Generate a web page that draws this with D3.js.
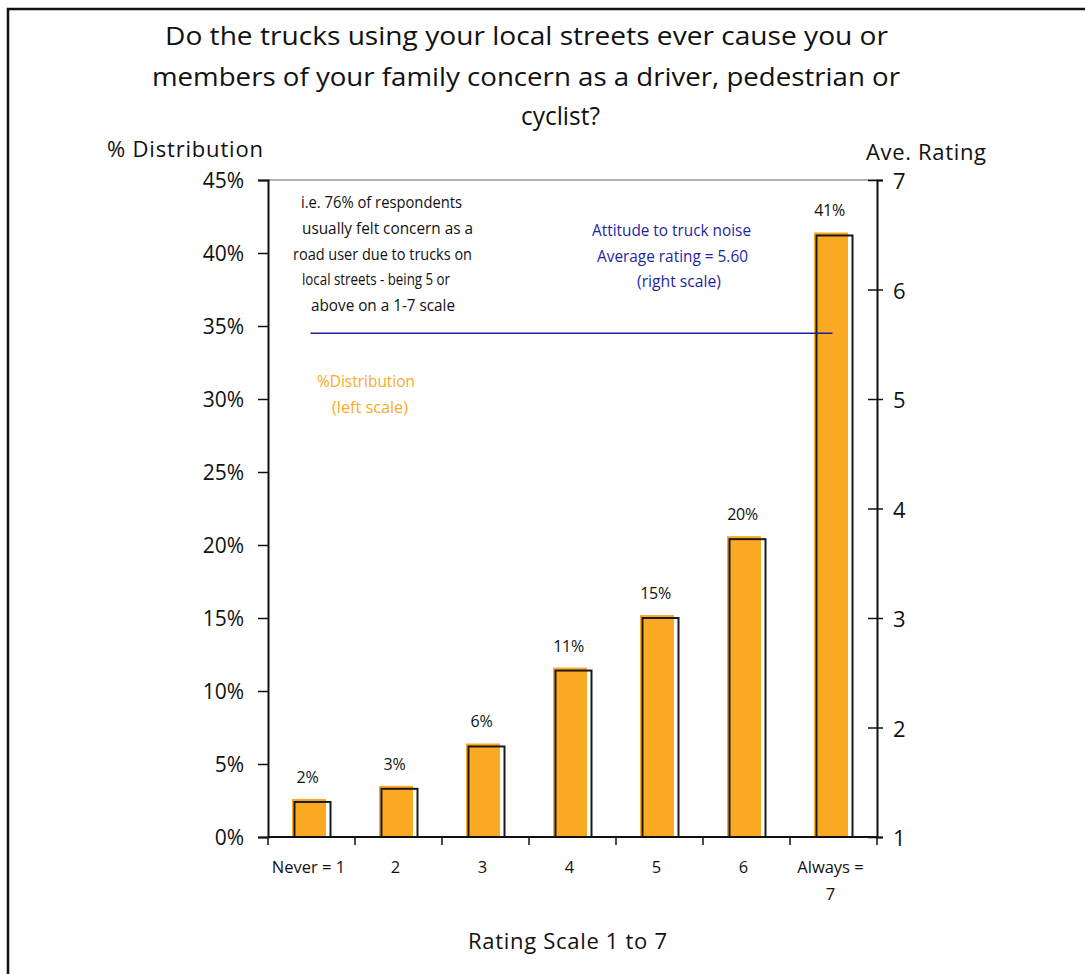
<!DOCTYPE html>
<html>
<head>
<meta charset="utf-8">
<script src="https://cdn.jsdelivr.net/npm/d3@7"></script>
<style>
  html, body { margin: 0; padding: 0; background: #fff; }
  svg { display: block; font-family: "Open Sans", "Noto Sans", sans-serif; }
</style>
</head>
<body>
<svg id="chart" width="1085" height="974"></svg>
<script>
// Rating categories (x axis), each entry split into display lines
const categories = ["1", "2", "3", "4", "5", "6", "7"];
const categoryLabels = [["Never = 1"], ["2"], ["3"], ["4"], ["5"], ["6"], ["Always =", "7"]];

// Share of respondents at each rating (%), left scale
const distribution = [2.4, 3.3, 6.2, 11.4, 15.0, 20.4, 41.2];

// Average rating, right scale (same value across every category)
const averageRating = [5.6, 5.6, 5.6, 5.6, 5.6, 5.6, 5.6];

// Axis ticks
const leftTicks = [0, 5, 10, 15, 20, 25, 30, 35, 40, 45];
const rightTicks = [1, 2, 3, 4, 5, 6, 7];

const titleLines = [
  "Do the trucks using your local streets ever cause you or",
  "members of your family concern as a driver, pedestrian or",
  "cyclist?"
];
const noteLines = [
  "i.e. 76% of respondents",
  "usually  felt concern as a",
  "road user due to trucks on",
  "local streets - being 5 or",
  "above on a 1-7 scale"
];
const avgLines = ["Attitude to truck noise", "Average rating = 5.60", "(right scale)"];
const distLines = ["%Distribution", "(left scale)"];

const ORANGE = "#fcaa24";
const BLUE = "#1f1fa3";

const svg = d3.select("#chart");

// Outer frame
svg.append("rect")
  .attr("x", 8).attr("y", 9).attr("width", 1100).attr("height", 1000)
  .attr("fill", "none").attr("stroke", "#111").attr("stroke-width", 2.5);

const plot = { left: 268, right: 877, top: 180, bottom: 837 };

const x = d3.scaleBand().domain(categories).range([plot.left, plot.right]).padding(0);
const yL = d3.scaleLinear().domain([0, 45]).range([plot.bottom, plot.top]);
const yR = d3.scaleLinear().domain([1, 7]).range([plot.bottom, plot.top]);

// Helper: a block of centred-ish lines with fixed start x and width
function textBlock(lines, spec, opts) {
  return svg.append("g").selectAll("text").data(lines).join("text")
    .attr("x", (d, i) => spec[i].x)
    .attr("y", (d, i) => spec[i].y)
    .attr("font-size", opts.size)
    .attr("fill", opts.color)
    .attr("textLength", (d, i) => spec[i].len)
    .attr("lengthAdjust", "spacingAndGlyphs")
    .text(d => d);
}

// Title
textBlock(titleLines, [
  { x: 165, y: 45, len: 723 },
  { x: 152, y: 86, len: 748 },
  { x: 521, y: 125, len: 79 }
], { size: 25, color: "#111" });

// Axis titles
svg.append("text").attr("x", 107).attr("y", 157)
  .attr("font-size", 22).attr("fill", "#111")
  .attr("textLength", 156).attr("lengthAdjust", "spacing")
  .text("% Distribution");
svg.append("text").attr("x", 866).attr("y", 160)
  .attr("font-size", 22).attr("fill", "#111")
  .attr("textLength", 120).attr("lengthAdjust", "spacing")
  .text("Ave. Rating");
svg.append("text").attr("x", 468).attr("y", 949)
  .attr("font-size", 22).attr("fill", "#111")
  .attr("textLength", 199).attr("lengthAdjust", "spacing")
  .text("Rating Scale 1 to 7");

// Top border of plot area
svg.append("line")
  .attr("x1", plot.left).attr("x2", plot.right)
  .attr("y1", plot.top).attr("y2", plot.top)
  .attr("stroke", "#999").attr("stroke-width", 1.5);

// Bars: orange body with an offset black outline
const bars = svg.append("g");
bars.selectAll("rect.fill").data(distribution).join("rect")
  .attr("class", "fill")
  .attr("x", (d, i) => x(categories[i]) + x.bandwidth() / 2 - 19.5)
  .attr("y", d => yL(d) - 3)
  .attr("width", 34)
  .attr("height", d => plot.bottom - yL(d) + 3)
  .attr("fill", ORANGE);
bars.selectAll("rect.outline").data(distribution).join("rect")
  .attr("class", "outline")
  .attr("x", (d, i) => x(categories[i]) + x.bandwidth() / 2 - 17)
  .attr("y", d => yL(d))
  .attr("width", 36)
  .attr("height", d => plot.bottom - yL(d))
  .attr("fill", "none").attr("stroke", "#1a1a1a").attr("stroke-width", 2);

// Bar value labels
const pct = d3.format(".0f");
bars.selectAll("text").data(distribution).join("text")
  .attr("x", (d, i) => x(categories[i]) + x.bandwidth() / 2 - 4)
  .attr("y", d => yL(d) - 19)
  .attr("text-anchor", "middle")
  .attr("font-size", 16).attr("fill", "#111")
  .attr("letter-spacing", -0.3)
  .text(d => pct(d) + "%");

// Average rating line (right scale)
const line = d3.line()
  .x((d, i) => x(categories[i]) + x.bandwidth() / 2 - 1)
  .y(d => yR(d));
svg.append("path").datum(averageRating)
  .attr("d", line)
  .attr("fill", "none").attr("stroke", BLUE).attr("stroke-width", 1.5);

// Left axis
const leftAxis = svg.append("g").attr("transform", `translate(${plot.left},0)`)
  .call(d3.axisLeft(yL).tickValues(leftTicks).tickSize(10).tickFormat(d => d + "%"));
leftAxis.select(".domain").attr("stroke", "#111").attr("stroke-width", 2);
leftAxis.selectAll(".tick line").attr("stroke", "#111").attr("stroke-width", 1.5);
leftAxis.selectAll(".tick text")
  .attr("x", -24).attr("dy", "0.36em")
  .attr("font-size", 21).attr("fill", "#111")
  .attr("font-family", "\"Open Sans\", sans-serif");

// Right axis (ticks crossing the axis line)
const rightAxis = svg.append("g").attr("transform", `translate(${plot.right},0)`)
  .call(d3.axisRight(yR).tickValues(rightTicks).tickSize(6).tickFormat(d3.format("d")));
rightAxis.select(".domain").attr("stroke", "#111").attr("stroke-width", 2);
rightAxis.selectAll(".tick line").attr("x1", -9).attr("x2", 6)
  .attr("stroke", "#111").attr("stroke-width", 1.5);
rightAxis.selectAll(".tick text")
  .attr("x", 16).attr("dy", "0.4em")
  .attr("font-size", 22).attr("fill", "#111")
  .attr("font-family", "\"Open Sans\", sans-serif");

// Bottom axis: boundary ticks between categories
const boundaries = categories.map(c => x(c)).concat([plot.right]);
const bottom = svg.append("g");
bottom.append("line")
  .attr("x1", plot.left).attr("x2", plot.right)
  .attr("y1", plot.bottom).attr("y2", plot.bottom)
  .attr("stroke", "#111").attr("stroke-width", 2);
bottom.selectAll("line.tick").data(boundaries).join("line")
  .attr("class", "tick")
  .attr("x1", d => d).attr("x2", d => d)
  .attr("y1", plot.bottom).attr("y2", plot.bottom + 8)
  .attr("stroke", "#111").attr("stroke-width", 1.5);
bottom.selectAll("text").data(categoryLabels).join("text")
  .attr("text-anchor", "middle")
  .attr("font-size", 16.5).attr("fill", "#111")
  .each(function (lines, i) {
    const cx = x(categories[i]) + x.bandwidth() / 2 - 3;
    d3.select(this).selectAll("tspan").data(lines).join("tspan")
      .attr("x", cx)
      .attr("y", (d, j) => 873 + j * 27)
      .text(d => d);
  });

// Annotation: share of respondents at 5 or above
textBlock(noteLines, [
  { x: 301, y: 208, len: 161 },
  { x: 302, y: 234, len: 171 },
  { x: 293, y: 260, len: 179 },
  { x: 302, y: 285, len: 148 },
  { x: 311, y: 311, len: 144 }
], { size: 16, color: "#111" });

// Annotation: average rating
textBlock(avgLines, [
  { x: 592, y: 236, len: 159 },
  { x: 597, y: 262, len: 151 },
  { x: 637, y: 287, len: 84 }
], { size: 16, color: BLUE });

// Annotation: bar series
textBlock(distLines, [
  { x: 317, y: 387, len: 98 },
  { x: 332, y: 413, len: 76 }
], { size: 16, color: ORANGE });
</script>
</body>
</html>
